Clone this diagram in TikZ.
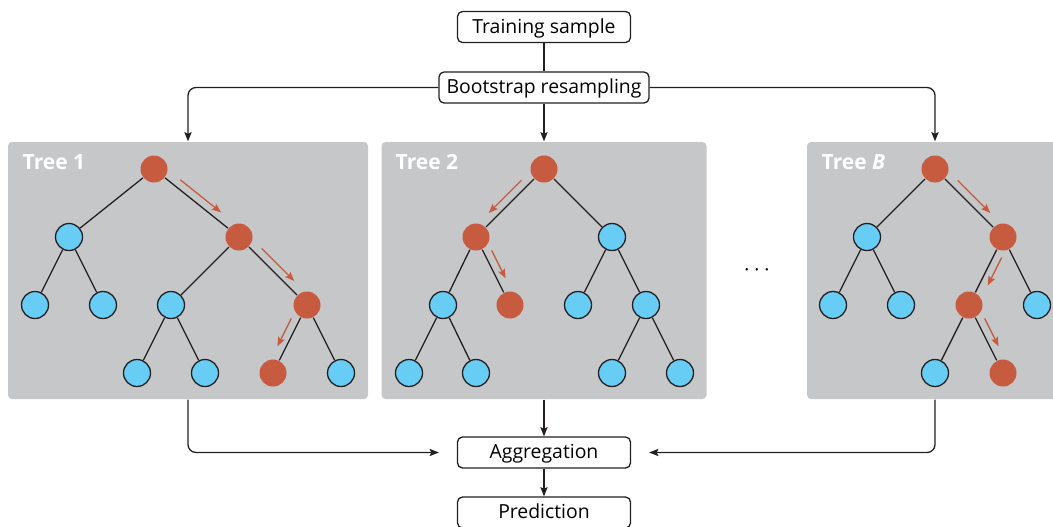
\documentclass[tikz,border=0pt]{standalone}
\usepackage{fontspec}
\setmainfont{Open Sans}
\usetikzlibrary{arrows.meta,calc}
\definecolor{panelgray}{RGB}{198,199,201}
\definecolor{hitred}{RGB}{199,91,64}
\definecolor{leafblue}{RGB}{104,205,245}
\definecolor{inkgray}{RGB}{35,31,32}

\begin{document}
\begin{tikzpicture}[x=0.5pt, y=-0.5pt, line width=0.65pt, draw=inkgray,
  >={Stealth[length=4.6pt, width=3.6pt, inset=0.8pt]},
  box/.style={draw, rounded corners=2.5pt, minimum width=86.5pt, minimum height=15.5pt, inner sep=0pt,
    text height=8.2pt, text depth=1.8pt, font=\fontsize{9.7}{11}\selectfont},
  panel/.style={fill=panelgray, rounded corners=2pt, minimum height=128.5pt, inner sep=0pt},
  tlabel/.style={anchor=base west, text=white, inner sep=0pt, font=\fontsize{10.5}{12}\selectfont\bfseries},
  nd/.style={circle, draw, fill=leafblue, minimum size=13.5pt, inner sep=0pt},
  hit/.style={circle, fill=hitred, minimum size=13.5pt, inner sep=0pt},
  link/.style={rounded corners=4pt},
  walk/.style={hitred, ->}]

\useasboundingbox (0,0) rectangle (1053,526);

\node[box] (ts) at (544,27) {Training sample};
\node[box, minimum width=105pt] (bs) at (544,87.5) {Bootstrap resampling};
\node[box] (ag) at (544,452.5) {Aggregation};
\node[box] (pr) at (544,512.5) {Prediction};

\node[panel, minimum width=180pt] (p1) at (188,270.5) {};
\node[panel, minimum width=162.5pt] (p2) at (544,270.5) {};
\node[panel, minimum width=128pt] (pB) at (935,270.5) {};
\node[tlabel] (t1) at (22,169) {Tree 1};
\node[tlabel] (t2) at (395,169) {Tree 2};
\node[tlabel] (tB) at (821,169) {Tree \textit{B}};
\node[font=\fontsize{9.5}{11}\selectfont] (dots) at (757,273) {· · ·};

% tree 1
\node[hit] (a0) at (154,169) {};
\node[nd]  (a1) at (69,237) {};
\node[hit] (a2) at (239,237) {};
\node[nd]  (a11) at (35,305) {};
\node[nd]  (a12) at (103,305) {};
\node[nd]  (a21) at (171,305) {};
\node[hit] (a22) at (307,305) {};
\node[nd]  (a211) at (137,373) {};
\node[nd]  (a212) at (205,373) {};
\node[hit] (a221) at (273,373) {};
\node[nd]  (a222) at (341,373) {};

% tree 2
\node[hit] (b0) at (544,169) {};
\node[hit] (b1) at (476,237) {};
\node[nd]  (b2) at (612,237) {};
\node[nd]  (b11) at (443,305) {};
\node[hit] (b12) at (510,305) {};
\node[nd]  (b21) at (578,305) {};
\node[nd]  (b22) at (646,305) {};
\node[nd]  (b111) at (409,373) {};
\node[nd]  (b112) at (476,373) {};
\node[nd]  (b221) at (612,373) {};
\node[nd]  (b222) at (680,373) {};

% tree B
\node[hit] (c0) at (935,169) {};
\node[nd]  (c1) at (867,237) {};
\node[hit] (c2) at (1003,237) {};
\node[nd]  (c11) at (833,305) {};
\node[nd]  (c12) at (901,305) {};
\node[hit] (c21) at (969,305) {};
\node[nd]  (c22) at (1037,305) {};
\node[nd]  (c211) at (935,373) {};
\node[hit] (c212) at (1003,373) {};

\foreach \u/\v in {a0/a1,a0/a2,a1/a11,a1/a12,a2/a21,a2/a22,a21/a211,a21/a212,a22/a221,a22/a222,
                   b0/b1,b0/b2,b1/b11,b1/b12,b2/b21,b2/b22,b11/b111,b11/b112,b22/b221,b22/b222,
                   c0/c1,c0/c2,c1/c11,c1/c12,c2/c21,c2/c22,c21/c211,c21/c212}
  \draw (\u) -- (\v);

% red arrows beside the followed edges (side angle, end fraction)
\foreach \u/\v/\s/\f in {a0/a2/90/0.73, a2/a22/90/0.73, a22/a221/-90/0.66,
                         b0/b1/-90/0.73, b1/b12/90/0.66,
                         c0/c2/90/0.73, c2/c21/90/0.66, c21/c212/90/0.66}
  \draw[walk] ($(\u)!0.25!(\v)!4pt!\s:(\v)$) -- ($(\u)!\f!(\v)!4pt!\s:(\v)$);

\draw (ts) -- (bs);
\draw[->, link] (bs.west) -| (p1.north);
\draw[->] (bs) -- (p2);
\draw[->, link] (bs.east) -| (pB.north);
\draw[->, link, shorten >=9pt] (p1.south) |- (ag.west);
\draw[->] (p2) -- (ag);
\draw[->, link, shorten >=9pt] (pB.south) |- (ag.east);
\draw[->] (ag) -- (pr);
\end{tikzpicture}
\end{document}
